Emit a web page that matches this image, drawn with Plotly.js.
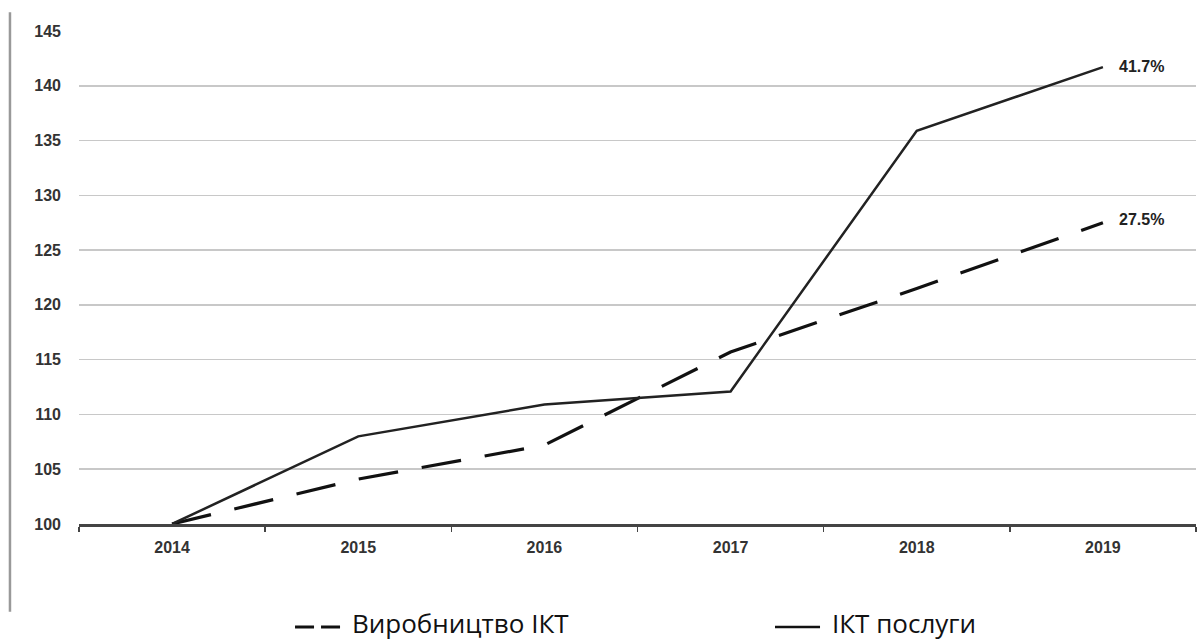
<!DOCTYPE html>
<html>
<head>
<meta charset="utf-8">
<script src="https://cdn.plot.ly/plotly-3.0.1.min.js"></script>
<style>html,body{margin:0;padding:0;background:#fff;}#chart{width:1197px;height:642px;}</style>
</head>
<body>
<div id="chart"></div>
<script>
const years = ['2014', '2015', '2016', '2017', '2018', '2019'];
const manufacturing = [100, 104.1, 107.2, 115.7, 121.5, 127.5];
const services = [100, 108.0, 110.9, 112.1, 135.9, 141.7];
const seriesNames = ['Виробництво ІКТ', 'ІКТ послуги'];
const endLabels = ['27.5%', '41.7%'];
const yTicks = [100, 105, 110, 115, 120, 125, 130, 135, 140, 145];

const dashStyle = '40px,24px';
const traces = [
  {x: years, y: manufacturing, name: seriesNames[0], type: 'scatter', mode: 'lines',
   line: {color: '#111', width: 3.2, dash: dashStyle}},
  {x: years, y: services, name: seriesNames[1], type: 'scatter', mode: 'lines',
   line: {color: '#222', width: 2.5}}
];

const lastIdx = years.length - 1;
const labelFont = {family: 'Liberation Sans, Arial, sans-serif', size: 16, color: '#222'};
const legendFont = {family: 'Open Sans, Noto Sans, sans-serif', size: 26, color: '#111'};
const tickFont = {family: 'Liberation Sans, Arial', size: 16, color: '#333', weight: 'bold'};
const annotations = [
  {x: lastIdx, y: services[lastIdx], xref: 'x', yref: 'y', text: '<b>' + endLabels[1] + '</b>',
   showarrow: false, xanchor: 'left', yanchor: 'middle', xshift: 14, yshift: 1, font: labelFont},
  {x: lastIdx, y: manufacturing[lastIdx], xref: 'x', yref: 'y', text: '<b>' + endLabels[0] + '</b>',
   showarrow: false, xanchor: 'left', yanchor: 'middle', xshift: 14, yshift: 3, font: labelFont},
  {x: 0.2426, y: -0.2008, xref: 'paper', yref: 'paper', text: seriesNames[0], showarrow: false,
   xanchor: 'left', yanchor: 'middle', font: legendFont},
  {x: 0.6723, y: -0.2008, xref: 'paper', yref: 'paper', text: seriesNames[1], showarrow: false,
   xanchor: 'left', yanchor: 'middle', font: legendFont}
];

const layout = {
  width: 1197, height: 642,
  margin: {l: 79, r: 1, t: 31, b: 118},
  paper_bgcolor: '#fff', plot_bgcolor: '#fff',
  showlegend: false,
  xaxis: {type: 'category', showgrid: false, showline: true, linecolor: '#444', linewidth: 2.5,
    ticks: 'outside', tickson: 'boundaries', ticklen: 5, tickcolor: '#444', tickwidth: 1.5,
    ticklabelstandoff: 7, tickfont: tickFont,
    range: [-0.5, 5.5], zeroline: false, fixedrange: true, automargin: false},
  yaxis: {range: [100, 145], tickvals: yTicks, showgrid: true, gridcolor: '#c8c8c8', gridwidth: 1.6,
    showline: false, zeroline: false, ticks: '', ticklabelstandoff: 17, tickfont: tickFont,
    fixedrange: true, automargin: false},
  annotations: annotations,
  shapes: [
    {type: 'line', xref: 'paper', yref: 'paper', x0: -0.0618, x1: -0.0618, y0: 1.038, y1: -0.178,
     line: {color: '#999', width: 2.5}},
    {type: 'line', xref: 'paper', yref: 'paper', x0: 0.1934, x1: 0.2337, y0: -0.2089, y1: -0.2089,
     line: {color: '#111', width: 3, dash: '19px,7px'}},
    {type: 'line', xref: 'paper', yref: 'paper', x0: 0.6231, x1: 0.6634, y0: -0.2089, y1: -0.2089,
     line: {color: '#111', width: 2.4}}
  ]
};

Plotly.newPlot('chart', traces, layout, {displayModeBar: false, staticPlot: true});
</script>
</body>
</html>
